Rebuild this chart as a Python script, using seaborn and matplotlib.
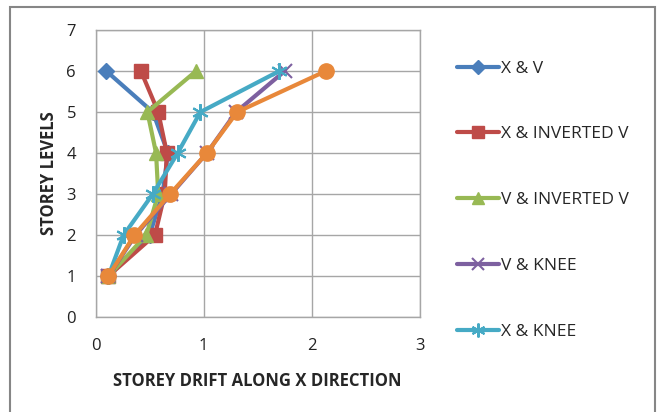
import matplotlib
matplotlib.use("Agg")
import matplotlib.pyplot as plt
import seaborn as sns
import pandas as pd
from matplotlib.lines import Line2D
from matplotlib.patches import Rectangle

levels = [1, 2, 3, 4, 5, 6]
x_and_v = [0.12, 0.50, 0.62, 0.67, 0.53, 0.10]
x_and_inv_v = [0.12, 0.55, 0.64, 0.66, 0.58, 0.42]
v_and_inv_v = [0.12, 0.47, 0.58, 0.56, 0.48, 0.93]
v_and_knee = [0.12, 0.37, 0.70, 1.03, 1.30, 1.75]
x_and_knee = [0.12, 0.26, 0.53, 0.76, 0.97, 1.70]
sixth_series = [0.12, 0.36, 0.69, 1.03, 1.31, 2.13]

series_names = ["X & V", "X & INVERTED V", "V & INVERTED V", "V & KNEE", "X & KNEE", "SERIES 6"]
series_values = [x_and_v, x_and_inv_v, v_and_inv_v, v_and_knee, x_and_knee, sixth_series]
colors = ["#4A7EBB", "#BE4B48", "#98B954", "#7D60A0", "#46AAC5", "#E8883A"]
markers = ["D", "s", "^", "x", (6, 2, 0), "o"]
msizes = [8, 10, 10, 10, 12, 11]
medge = [1, 1, 1, 1.5, 1.5, 1]

rows = []
for name, vals in zip(series_names, series_values):
    for lv, v in zip(levels, vals):
        rows.append({"series": name, "level": lv, "drift": v})
df = pd.DataFrame(rows)

sns.set_style("white")
plt.rcParams["font.family"] = ["Open Sans", "DejaVu Sans"]

fig = plt.figure(figsize=(6.57, 4.12), dpi=100)
ax = fig.add_axes([0.1454, 0.2306, 0.639 - 0.1454, 0.927 - 0.2306])

for i, name in enumerate(series_names):
    sub = df[df["series"] == name]
    sns.lineplot(data=sub, x="drift", y="level", sort=False, ax=ax,
                 color=colors[i], linewidth=3, marker=markers[i],
                 markersize=msizes[i], markeredgecolor=colors[i],
                 markeredgewidth=medge[i], zorder=3 + i, legend=False)

ax.set_xlim(0, 3)
ax.set_ylim(0, 7)
ax.set_xticks([0, 1, 2, 3])
ax.set_yticks(range(0, 8))
ax.grid(True, color="#A6A6A6", linewidth=1)
ax.set_axisbelow(True)
for s in ax.spines.values():
    s.set_color("#A6A6A6")
    s.set_linewidth(1)
ax.tick_params(axis="both", length=0, labelsize=12, colors="#222222")
ax.tick_params(axis="x", pad=15)
ax.tick_params(axis="y", pad=14)
ax.set_xlabel("STOREY DRIFT ALONG X DIRECTION", fontsize=12, fontweight="bold", labelpad=13)
ax.set_ylabel("STOREY LEVELS", fontsize=12, fontweight="bold", labelpad=6)

handles = []
for i in range(5):
    handles.append(Line2D([0], [0], color=colors[i], linewidth=3, marker=markers[i],
                          markersize=[7, 9, 9, 9, 10][i], markeredgecolor=colors[i],
                          markeredgewidth=medge[i]))
fig.legend(handles, series_names[:5], loc="upper left", bbox_to_anchor=(0.685, 0.870),
           frameon=False, fontsize=12.5, labelspacing=2.86, handlelength=2.4,
           handletextpad=0.15, borderaxespad=0)

fig.patches.append(Rectangle((10 / 657, -0.05), 645 / 657, 1 - 7 / 412 + 0.05,
                             transform=fig.transFigure, fill=False,
                             edgecolor="#868686", linewidth=1.5))

fig.savefig("out.png", dpi=100)
